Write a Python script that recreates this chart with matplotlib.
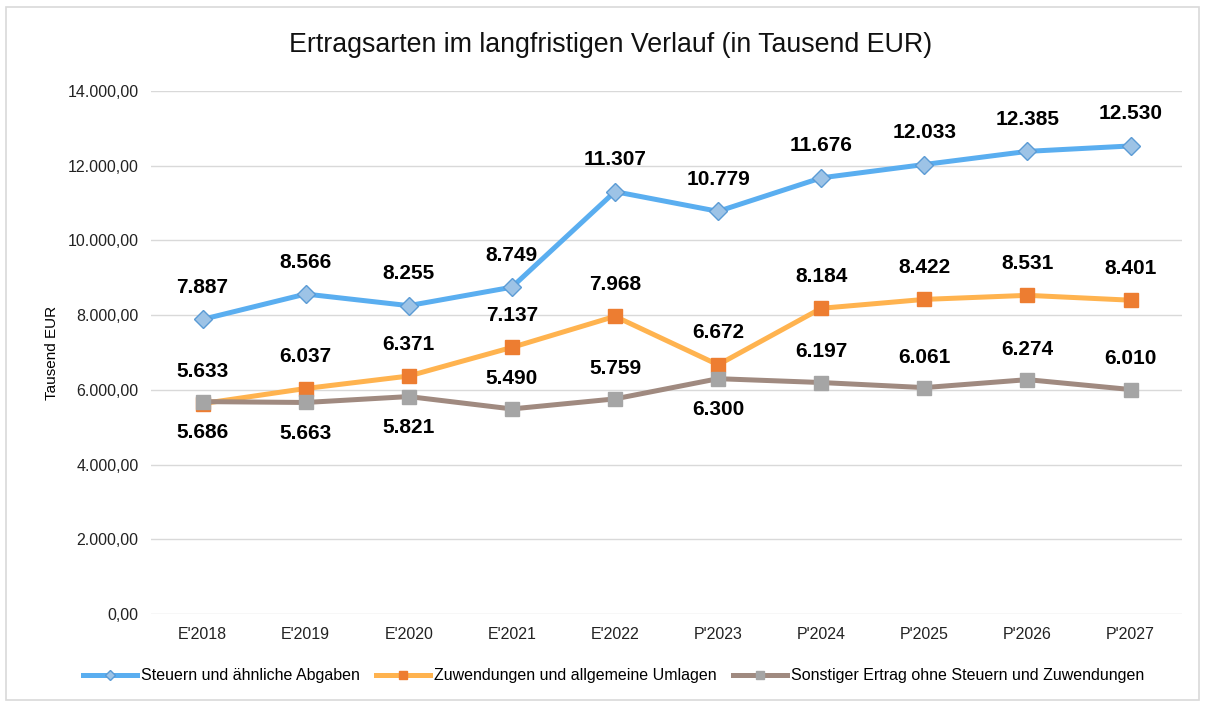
import matplotlib.pyplot as plt
from matplotlib.patches import Rectangle
from matplotlib.ticker import FuncFormatter

plt.rcParams['font.family'] = ['Liberation Sans', 'DejaVu Sans']

years = ["E'2018", "E'2019", "E'2020", "E'2021", "E'2022",
         "P'2023", "P'2024", "P'2025", "P'2026", "P'2027"]
steuern = [7887, 8566, 8255, 8749, 11307, 10779, 11676, 12033, 12385, 12530]
zuwendungen = [5633, 6037, 6371, 7137, 7968, 6672, 8184, 8422, 8531, 8401]
sonstige = [5686, 5663, 5821, 5490, 5759, 6300, 6197, 6061, 6274, 6010]
# label above (+1) or below (-1) the point
sonstige_side = [-1, -1, -1, 1, 1, -1, 1, 1, 1, 1]


def de_int(v):
    return f"{v:,.0f}".replace(",", ".")


def de_2(v, pos=None):
    s = f"{v:,.2f}"
    return s.replace(",", "X").replace(".", ",").replace("X", ".")


fig = plt.figure(figsize=(12.05, 7.04), dpi=100)
ax = fig.add_axes([0.1253, 0.1278, 0.8557, 0.7429])

x = list(range(len(years)))

ax.plot(x, steuern, color='#5AAEF0', lw=3.6, marker='D', ms=9,
        mfc='#9DC3E6', mec='#5B9BD5', mew=1, label='Steuern und ähnliche Abgaben', zorder=3)
ax.plot(x, zuwendungen, color='#FFB34F', lw=3.6, marker='s', ms=10,
        mfc='#ED7D31', mec='#ED7D31', label='Zuwendungen und allgemeine Umlagen', zorder=3)
ax.plot(x, sonstige, color='#A08A80', lw=3.6, marker='s', ms=10,
        mfc='#A5A5A5', mec='#A5A5A5', label='Sonstiger Ertrag ohne Steuern und Zuwendungen', zorder=4)

lab_kw = dict(textcoords='offset points', ha='center', va='center',
              fontsize=15, fontweight='bold', color='black', zorder=5)
for i in x:
    ax.annotate(de_int(steuern[i]), (i, steuern[i]), xytext=(0, 23), **lab_kw)
    ax.annotate(de_int(zuwendungen[i]), (i, zuwendungen[i]), xytext=(0, 23), **lab_kw)
    ax.annotate(de_int(sonstige[i]), (i, sonstige[i]),
                xytext=(0, 22 * sonstige_side[i]), **lab_kw)

ax.set_xlim(-0.5, len(years) - 0.5)
ax.set_ylim(0, 14000)
ax.set_yticks(range(0, 14001, 2000))
ax.yaxis.set_major_formatter(FuncFormatter(de_2))
ax.set_xticks(x)
ax.set_xticklabels(years)
ax.tick_params(axis='both', length=0, labelsize=11.5, colors='#222222', pad=9)
ax.grid(axis='y', color='#D9D9D9', lw=1)
ax.set_axisbelow(True)
for s in ax.spines.values():
    s.set_visible(False)
ax.set_ylabel('Tausend EUR', fontsize=11, labelpad=6)

fig.text(0.507, 0.936, 'Ertragsarten im langfristigen Verlauf (in Tausend EUR)',
         ha='center', va='center', fontsize=19.3, color='#111111')

fig.legend(loc='center', bbox_to_anchor=(0.509, 0.04), ncol=3, frameon=False,
           fontsize=11.5, handlelength=3.4, handletextpad=0.25, columnspacing=1.0,
           markerscale=0.6)

fig.patches.append(Rectangle((0.005, 0.005), 0.99, 0.985, transform=fig.transFigure,
                             fill=False, edgecolor='#D9D9D9', lw=1.2))

fig.savefig('out.png', dpi=100)
